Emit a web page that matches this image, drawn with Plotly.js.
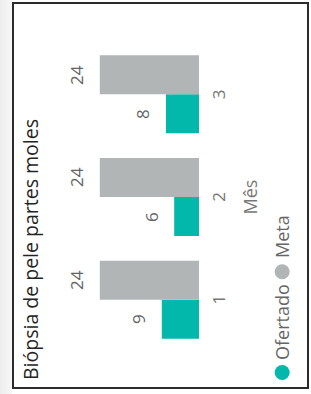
<!DOCTYPE html>
<html>
<head>
<meta charset="utf-8">
<script src="https://cdn.plot.ly/plotly-3.0.1.min.js"></script>
<style>
  html, body { margin: 0; padding: 0; width: 311px; height: 394px; background: #ffffff; overflow: hidden; }
  #strip { position: absolute; left: 0; top: 0; width: 12px; height: 394px;
           background: linear-gradient(to right, #ededed, #f7f7f7); }
  #frame { position: absolute; left: 12px; top: 2px; width: 297px; height: 387px;
           box-sizing: border-box; border: 2px solid #2b2b2b; background: #ffffff; }
  #chart { position: absolute; left: 13px; top: 388px; width: 385px; height: 295px;
           transform-origin: 0 0; transform: rotate(-90deg); }
</style>
</head>
<body>
<div id="strip"></div>
<div id="frame"></div>
<div id="chart"></div>
<script>
// ---- data ----
const meses = ['1', '2', '3'];
const ofertado = [9, 6, 8];
const meta = [24, 24, 24];
const seriesNames = ['Ofertado', 'Meta'];
const seriesColors = ['#01B8AA', '#B1B5B6'];
const chartTitle = 'Biópsia de pele partes moles';
const axisTitle = 'Mês';

// ---- layout constants (original, unrotated frame: 385 x 295) ----
const W = 385, H = 295;
const M = { l: 36.5, r: 39.5, t: 62, b: 108.5 };
const plotW = W - M.l - M.r;
const FONT = '"Open Sans", "Noto Sans", sans-serif';

const traces = [
  { type: 'bar', x: meses, y: ofertado, name: seriesNames[0],
    marker: { color: seriesColors[0] }, showlegend: false, hoverinfo: 'none' },
  { type: 'bar', x: meses, y: meta, name: seriesNames[1],
    marker: { color: seriesColors[1] }, showlegend: false, hoverinfo: 'none' }
];

// data labels placed through the axes' scales
const bargap = 0.24;
const half = (1 - bargap) / 4;
const annotations = [];
[ofertado, meta].forEach((vals, s) => {
  vals.forEach((v, i) => {
    annotations.push({
      x: i + (s === 0 ? -half : half), y: v, xref: 'x', yref: 'y',
      text: String(v), showarrow: false, yanchor: 'middle', yshift: 23,
      font: { family: FONT, size: 17, color: '#626466' }
    });
  });
});

// custom legend (circle markers + labels), in paper units
const px2paper = u => (u - M.l) / plotW;
const legendY = (H - 270 - M.b) / (H - M.t - M.b);
const legendItems = [
  { name: seriesNames[0], color: seriesColors[0], cx: 15, tx: 25 },
  { name: seriesNames[1], color: seriesColors[1], cx: 116, tx: 128 }
];
const shapes = [];
legendItems.forEach(it => {
  shapes.push({
    type: 'circle', xref: 'paper', yref: 'paper',
    xsizemode: 'pixel', ysizemode: 'pixel',
    xanchor: px2paper(it.cx), yanchor: legendY,
    x0: -7.5, x1: 7.5, y0: -7.5, y1: 7.5,
    fillcolor: it.color, line: { width: 0 }
  });
  annotations.push({
    xref: 'paper', yref: 'paper', x: px2paper(it.tx), y: legendY,
    xanchor: 'left', yanchor: 'middle', showarrow: false, text: it.name,
    font: { family: FONT, size: 18, color: '#666666' }
  });
});

const layout = {
  width: W, height: H,
  margin: M,
  paper_bgcolor: 'rgba(0,0,0,0)', plot_bgcolor: 'rgba(0,0,0,0)',
  barmode: 'group', bargap: bargap, bargroupgap: 0,
  showlegend: false,
  title: {
    text: chartTitle, xref: 'container', yref: 'container',
    x: 8 / W, xanchor: 'left', y: 1 - 11 / H, yanchor: 'top',
    font: { family: FONT, size: 19.5, color: '#252423' }
  },
  xaxis: {
    type: 'category', showgrid: false, zeroline: false, showline: false, ticks: '',
    tickfont: { family: FONT, size: 17, color: '#777777' },
    ticklabelstandoff: 8,
    title: { text: axisTitle, standoff: 15, font: { family: FONT, size: 18, color: '#777777' } }
  },
  yaxis: {
    range: [0, 30], showgrid: false, zeroline: false, showline: false,
    showticklabels: false, ticks: ''
  },
  annotations: annotations,
  shapes: shapes
};

Plotly.newPlot('chart', traces, layout, { staticPlot: true, displayModeBar: false });
</script>
</body>
</html>
